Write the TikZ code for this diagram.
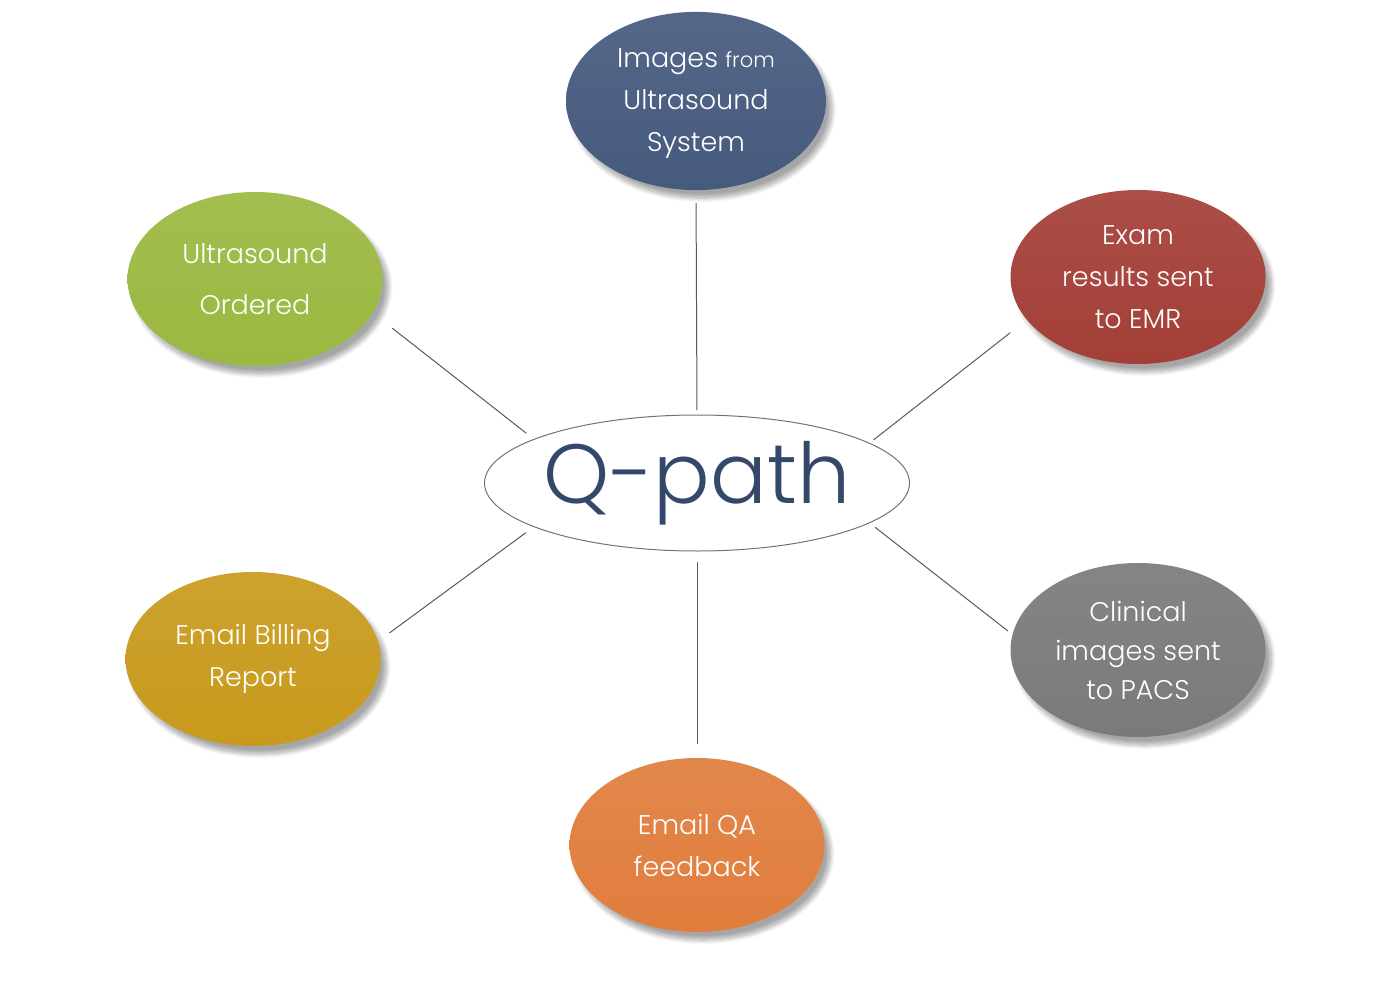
\documentclass[tikz,border=0pt]{standalone}
\usepackage{fontspec}
\setmainfont{Poppins}[UprightFont={* Light}]
\usetikzlibrary{shapes.geometric,shadows.blur}
\definecolor{cblue}{HTML}{465A7E}
\definecolor{cgreen}{HTML}{9BB840}
\definecolor{cred}{HTML}{A33F37}
\definecolor{cyellow}{HTML}{C89A1C}
\definecolor{cgray}{HTML}{7A7A7A}
\definecolor{corange}{HTML}{E07D3C}
\definecolor{qtext}{HTML}{34486B}
\tikzset{
  bub/.style={ellipse, minimum width=127.5pt, minimum height=87pt, inner sep=0pt, outer sep=0pt,
    text=white, align=center, font=\fontsize{13.5}{21}\selectfont,
    top color=#1!92!white, bottom color=#1, shading angle=0,
    blur shadow={shadow xshift=3pt, shadow yshift=-4pt, shadow blur steps=12, shadow opacity=35}},
  link/.style={draw=black!65, line width=0.5pt}
}
\begin{document}
\begin{tikzpicture}[x=0.5pt,y=-0.5pt]
\useasboundingbox (0,0) rectangle (1400,1000);
\node[ellipse, draw=black!55, line width=0.5pt, fill=white, minimum width=212.5pt, minimum height=68pt, inner sep=0pt, outer sep=0pt,
  text=qtext, font=\fontsize{42}{50}\selectfont] (q) at (697,483) {\raisebox{-3pt}{\makebox[140pt]{Q-path}}};
\node[bub=cblue, minimum width=130pt, minimum height=89pt] (top) at (696,101) {\raisebox{-2.5pt}{\begin{tabular}{@{}c@{}}Images {\fontsize{10.5}{12}\selectfont from}\\Ultrasound\\System\end{tabular}}};
\node[bub=cgreen] (green) at (255,279) {Ultrasound\\[4.5pt]Ordered};
\node[bub=cred] (red) at (1138,277) {Exam\\results sent\\to EMR};
\node[bub=cyellow] (yellow) at (253,659) {Email Billing\\Report};
\node[bub=cgray, font=\fontsize{13.5}{19.5}\selectfont] (gray) at (1138,650) {Clinical\\images sent\\to PACS};
\node[bub=corange] (orange) at (697,845) {Email QA\\feedback};
\draw[link, shorten <=2.5pt, shorten >=6.5pt] (q.north) -- (top.south);
\draw[link, shorten <=5.5pt, shorten >=7pt] (q.south) -- (orange.north);
\draw[link, shorten <=4.9pt, shorten >=12.5pt] (q.165.4) -- (green.-16.8);
\draw[link, shorten <=2.7pt, shorten >=10.5pt] (q.13) -- (red.201.2);
\draw[link, shorten <=5.1pt, shorten >=7.2pt] (q.195.9) -- (yellow.8.4);
\draw[link, shorten <=3.7pt, shorten >=3pt] (q.-13.3) -- (gray.173.2);
\end{tikzpicture}
\end{document}
